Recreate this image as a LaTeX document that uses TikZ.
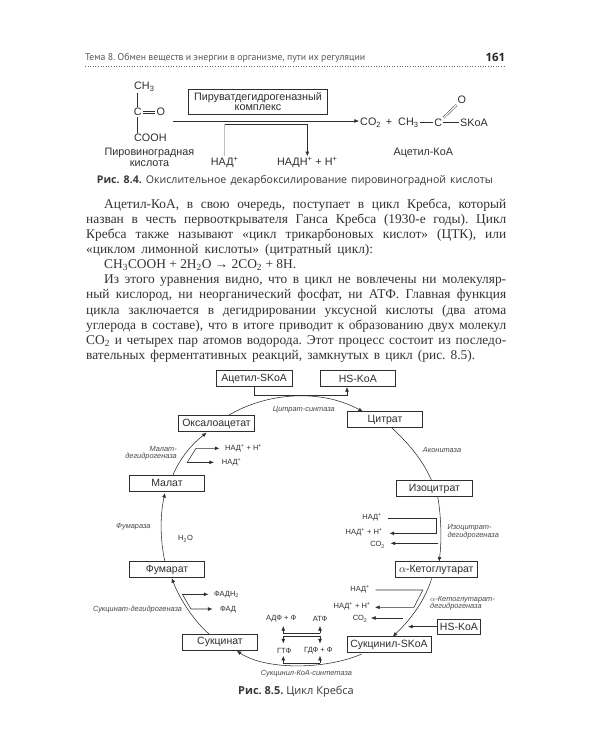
\documentclass[tikz,border=0pt]{standalone}
\usepackage{fontspec}
\setmainfont{Liberation Sans}
\newfontfamily\bodyf{Liberation Serif}
\newfontfamily\capf{Open Sans}
\newfontfamily\headf{PT Sans}
\usetikzlibrary{arrows.meta,calc}
\frenchspacing
\newcommand{\fs}[1]{\fontsize{#1}{#1}\selectfont}
\newcommand{\spp}{\textsuperscript{+}}
\newcommand{\sbb}[1]{\textsubscript{#1}}
\colorlet{ink}{black!82}
\tikzset{
  x=1pt,y=-1pt,
  cline/.style={draw=ink,line width=0.55pt},
  arr/.style={cline,-{Latex[length=4.6pt,width=3.8pt]}},
  box/.style={draw=ink,line width=0.6pt,fill=white,minimum width=75.5pt,minimum height=16pt,inner sep=0pt,text=ink,font=\fs{10.5}},
  chem/.style={inner sep=1pt,text=ink,font=\fs{10.8},align=center},
  smalllab/.style={inner sep=0pt,text=ink,font=\fs{7.5}},
  enz/.style={inner sep=0pt,text=black!72,font=\fs{7.4}\itshape,align=left},
  bodyline/.style={inner sep=0pt,anchor=base west,text=black!80,font=\bodyf\fs{13.4}},
  capt/.style={inner sep=0pt,text=black!78,font=\capf\fs{10.6}}
}
\newcommand{\jl}[2]{\makebox[#1pt][s]{\frenchspacing #2}}
\begin{document}
\begin{tikzpicture}
\useasboundingbox (0,0) rectangle (600,750);
\fill[white] (0,0) rectangle (600,750);
% header
\node[inner sep=0,anchor=west,text=black!65,font=\headf\fs{9.8}] (hd) at (85,57.7) {\jl{280}{Тема 8. Обмен веществ и энергии в организме, пути их регуляции}};
\node[inner sep=0,anchor=east,text=black!85,font=\capf\bfseries\fs{11.5}] (pg) at (505.5,57.5) {161};
\coordinate (d0) at (0,66.7);
\draw[black!60,line width=0.6pt,dotted] (hd.west|-d0) -- (pg.east|-d0);
% fig 8.4
\node[chem,anchor=west] (ch3) at (133,87) {CH\sbb{3}};
\node[chem] (c1) at (137.7,112) {C};
\node[chem] (o1) at (160.8,112) {O};
\node[chem,anchor=west] (cooh) at (133,138) {COOH};
\draw[cline] (c1|-ch3.south) -- (c1.north);
\draw[cline] (c1.south) -- (c1|-cooh.north);
\draw[cline,line width=0.45pt] ([yshift=0.9pt]c1.east) -- ([yshift=0.9pt]o1.west);
\draw[cline,line width=0.45pt] ([yshift=-0.9pt]c1.east) -- ([yshift=-0.9pt]o1.west);
\node[chem] (pvk) at (149.5,157.5) {Пировиноградная\\кислота};
\node[draw=ink,line width=0.6pt,inner sep=0,minimum width=139.4pt,minimum height=24.7pt,chem] (pdh) at (258,101.7) {Пируватдегидрогеназный\\[-0.5pt]комплекс};
\coordinate (a1) at (173.3,121);
\node[chem,anchor=west] (co2) at (359,122.7) {CO\sbb{2}};
\draw[arr] (a1) -- (co2.west|-a1);
\node[chem] (pl) at (389,122.7) {+};
\node[chem,anchor=west] (ch3b) at (397,122.7) {CH\sbb{3}};
\node[chem] (c2) at (438.3,122.7) {C};
\node[chem,anchor=west] (skoa) at (459,122.7) {SKoA};
\node[chem] (o2) at (461.7,100) {O};
\draw[cline] (ch3b) -- (c2);
\draw[cline] (c2) -- (skoa);
\draw[cline,double=white,double distance=1.2pt,line width=0.45pt] (c2) -- (o2);
\node[chem] (acoa) at (423.3,152.5) {Ацетил-КоА};
\node[chem] (nad) at (224.7,162.7) {НАД\spp};
\node[chem] (nadh) at (307.3,162.7) {НАДН\spp{} + Н\spp};
\coordinate (b) at (260,124.3);
\draw[black!25,line width=0.7pt] (nad.north) -- (nad|-b);
\draw[arr] (nad|-b) -- (nadh|-b) -- (nadh.north);
\node[capt,anchor=west] (c84) at (96.7,180.7) {\jl{396}{{\bfseries Рис. 8.4.} Окислительное декарбоксилирование пировиноградной кислоты}};
% body
\node[bodyline] (t1) at (104,208) {\jl{402}{Ацетил-КоА, в свою очередь, поступает в цикл Кребса, который}};
\node[bodyline] (t2) at (86,223) {\jl{420}{назван в честь первооткрывателя Ганса Кребса (1930-е годы). Цикл}};
\node[bodyline] (t3) at (86,238.2) {\jl{420}{Кребса также называют «цикл трикарбоновых кислот» (ЦТК), или}};
\node[bodyline] (t4) at (86,253.3) {\jl{287}{«циклом лимонной кислоты» (цитратный цикл):}};
\node[bodyline] (t5) at (104,268.4) {\jl{192}{CH\sbb{3}COOH + 2H\sbb{2}O → 2CO\sbb{2} + 8H.}};
\node[bodyline] (t6) at (104,283.6) {\jl{402}{Из этого уравнения видно, что в цикл не вовлечены ни молекуляр-}};
\node[bodyline] (t7) at (86,298.8) {\jl{420}{ный кислород, ни неорганический фосфат, ни АТФ. Главная функция}};
\node[bodyline] (t8) at (86,314) {\jl{420}{цикла заключается в дегидрировании уксусной кислоты (два атома}};
\node[bodyline] (t9) at (86,329) {\jl{420}{углерода в составе), что в итоге приводит к образованию двух молекул}};
\node[bodyline] (t10) at (86,344) {\jl{420}{CO\sbb{2} и четырех пар атомов водорода. Этот процесс состоит из последо-}};
\node[bodyline] (t11) at (86,359) {\jl{389}{вательных ферментативных реакций, замкнутых в цикл (рис. 8.5).}};
% boxes
\node[box] (acs) at (254.2,378.5) {Ацетил-SKoA};
\node[box] (hs1) at (357.8,378.5) {HS-KoA};
\node[box] (cit) at (385,419.7) {Цитрат};
\node[box] (oxa) at (216.5,423.7) {Оксалоацетат};
\node[box] (mal) at (167,483) {Малат};
\node[box] (iso) at (434.4,488.7) {Изоцитрат};
\node[box] (fum) at (167,569.7) {Фумарат};
\node[box] (suc) at (220,642) {Сукцинат};
\node[box,minimum width=81.3pt] (keto) at (436.3,569.7) {$\alpha$-Кетоглутарат};
\node[box,minimum width=84pt] (scoa) at (389,644.7) {Сукцинил-SKoA};
\node[box,minimum width=42.3pt,minimum height=15.3pt] (hs2) at (458.9,626.6) {HS-KoA};
% top connector
\coordinate (j1) at (254.2,395.7);
\draw[arr] (acs.south) -- (j1) -- (347,395.7) -- (347,387);
% cycle
\draw[arr] (228,415.7) .. controls (265,393) and (320,388) .. (363,411.7);
\draw[cline] (391.7,427.7) .. controls (405,440) and (422,458) .. (431.7,480.7);
\draw[arr] (437.7,496.7) .. controls (441,515) and (442,540) .. (439,561.7);
\draw[arr] (431.7,578.5) .. controls (425,600) and (412,618) .. (392.7,636.7);
\draw[arr] (361.7,654) .. controls (325,670) and (265,670) .. (236.7,650.7);
\draw[arr] (209,634) .. controls (195,622) and (180,600) .. (171.7,578);
\draw[arr] (165,561.7) .. controls (160,540) and (160,515) .. (165,493);
\draw[arr] (173,475) .. controls (180,458) and (192,444) .. (206.7,432.7);
% enzyme labels
\node[enz,anchor=west] (e1) at (272.7,409.3) {Цитрат-синтаза};
\node[enz,anchor=west] (e2) at (422.7,450.3) {Аконитаза};
\node[enz,anchor=north east,align=right] (e3) at (177,446) {Малат-\\дегидрогеназа};
\node[enz,anchor=west] (e4) at (116,526.7) {Фумараза};
\node[enz,anchor=east] (e5) at (182.3,609.3) {Сукцинат-дегидрогеназа};
\node[enz,anchor=west] (e6) at (260.7,674) {Сукцинил-КоА-синтетаза};
\node[enz,anchor=north west] (e7) at (447.3,524.5) {Изоцитрат-\\дегидрогеназа};
\node[enz,anchor=north west] (e8) at (430,596) {$\alpha$-Кетоглутарат-\\дегидрогеназа};
\node[smalllab] (h2o) at (185.5,539) {Н\sbb{2}О};
% malate side
\node[smalllab,anchor=west] (m1) at (225,448.3) {НАД\spp{} + Н\spp};
\node[smalllab,anchor=west] (m2) at (221.7,462.3) {НАД\spp};
\coordinate (mj) at (187.3,462.3);
\draw[arr] (mj) -- (196,448.3) -- (219.5,448.3);
\draw[arr] (mj) -- (214,462.3);
% fumarate side
\node[smalllab,anchor=west] (f1) at (214,594.3) {ФАДН\sbb{2}};
\node[smalllab,anchor=west] (f2) at (220,610) {ФАД};
\coordinate (fj) at (182.3,594.3);
\draw[arr] (fj) -- (208.5,594.3);
\draw[arr] (fj) -- (191,609) -- (212.5,609);
% isocitrate side
\node[smalllab,anchor=east] (i1) at (382,517.5) {НАД\spp};
\node[smalllab,anchor=east] (i2) at (382.7,532.7) {НАД\spp{} + Н\spp};
\node[smalllab,anchor=east] (i3) at (385,545) {СО\sbb{2}};
\draw[arr] (388.3,518) -- (436.7,518) -- (436.7,533.3) -- (389.5,533.3);
\draw[arr] (438.3,543.3) -- (390.5,543.3);
% ketoglutarate side
\node[smalllab,anchor=east] (k1) at (370,589.5) {НАД\spp};
\node[smalllab,anchor=east] (k2) at (370.7,606.7) {НАД\spp{} + Н\spp};
\node[smalllab,anchor=east] (k3) at (367.5,619) {СО\sbb{2}};
\draw[arr] (375.7,590) -- (422.7,590) -- (414,607.3) -- (375,607.3);
\draw[arr] (403.3,618) -- (371,618);
\draw[arr] (hs2.west) -- (408,626.6);
% centre
\node[smalllab] (adp) at (281.2,619) {АДФ + Ф};
\node[smalllab] (atp) at (320.2,619) {АТФ};
\node[smalllab] (gtp) at (284.2,650.7) {ГТФ};
\node[smalllab] (gdp) at (318.4,650.7) {ГДФ + Ф};
\coordinate (u1) at (283.3,626);
\coordinate (u2) at (320,626);
\coordinate (v1) at (283.3,643.5);
\coordinate (v2) at (320,643.5);
\coordinate (w1) at (283.3,655.8);
\coordinate (w2) at (320,655.8);
\draw[arr] (283.3,633.3) -- (u1);
\draw[arr] (320,633.3) -- (u2);
\draw[cline] (283.3,633.3) -- (320,633.3);
\draw[cline] (283.3,635.8) -- (320,635.8);
\draw[arr] (283.3,635.8) -- (v1);
\draw[arr] (320,635.8) -- (v2);
\draw[arr] (283.3,663.3) -- (w1);
\draw[arr] (320,663.3) -- (w2);
\draw[cline] (283.3,663.3) -- (320,663.3);
\node[capt,anchor=west,font=\capf\fs{11}] (c85) at (238,692) {{\bfseries Рис. 8.5.} Цикл Кребса};
\end{tikzpicture}
\end{document}
